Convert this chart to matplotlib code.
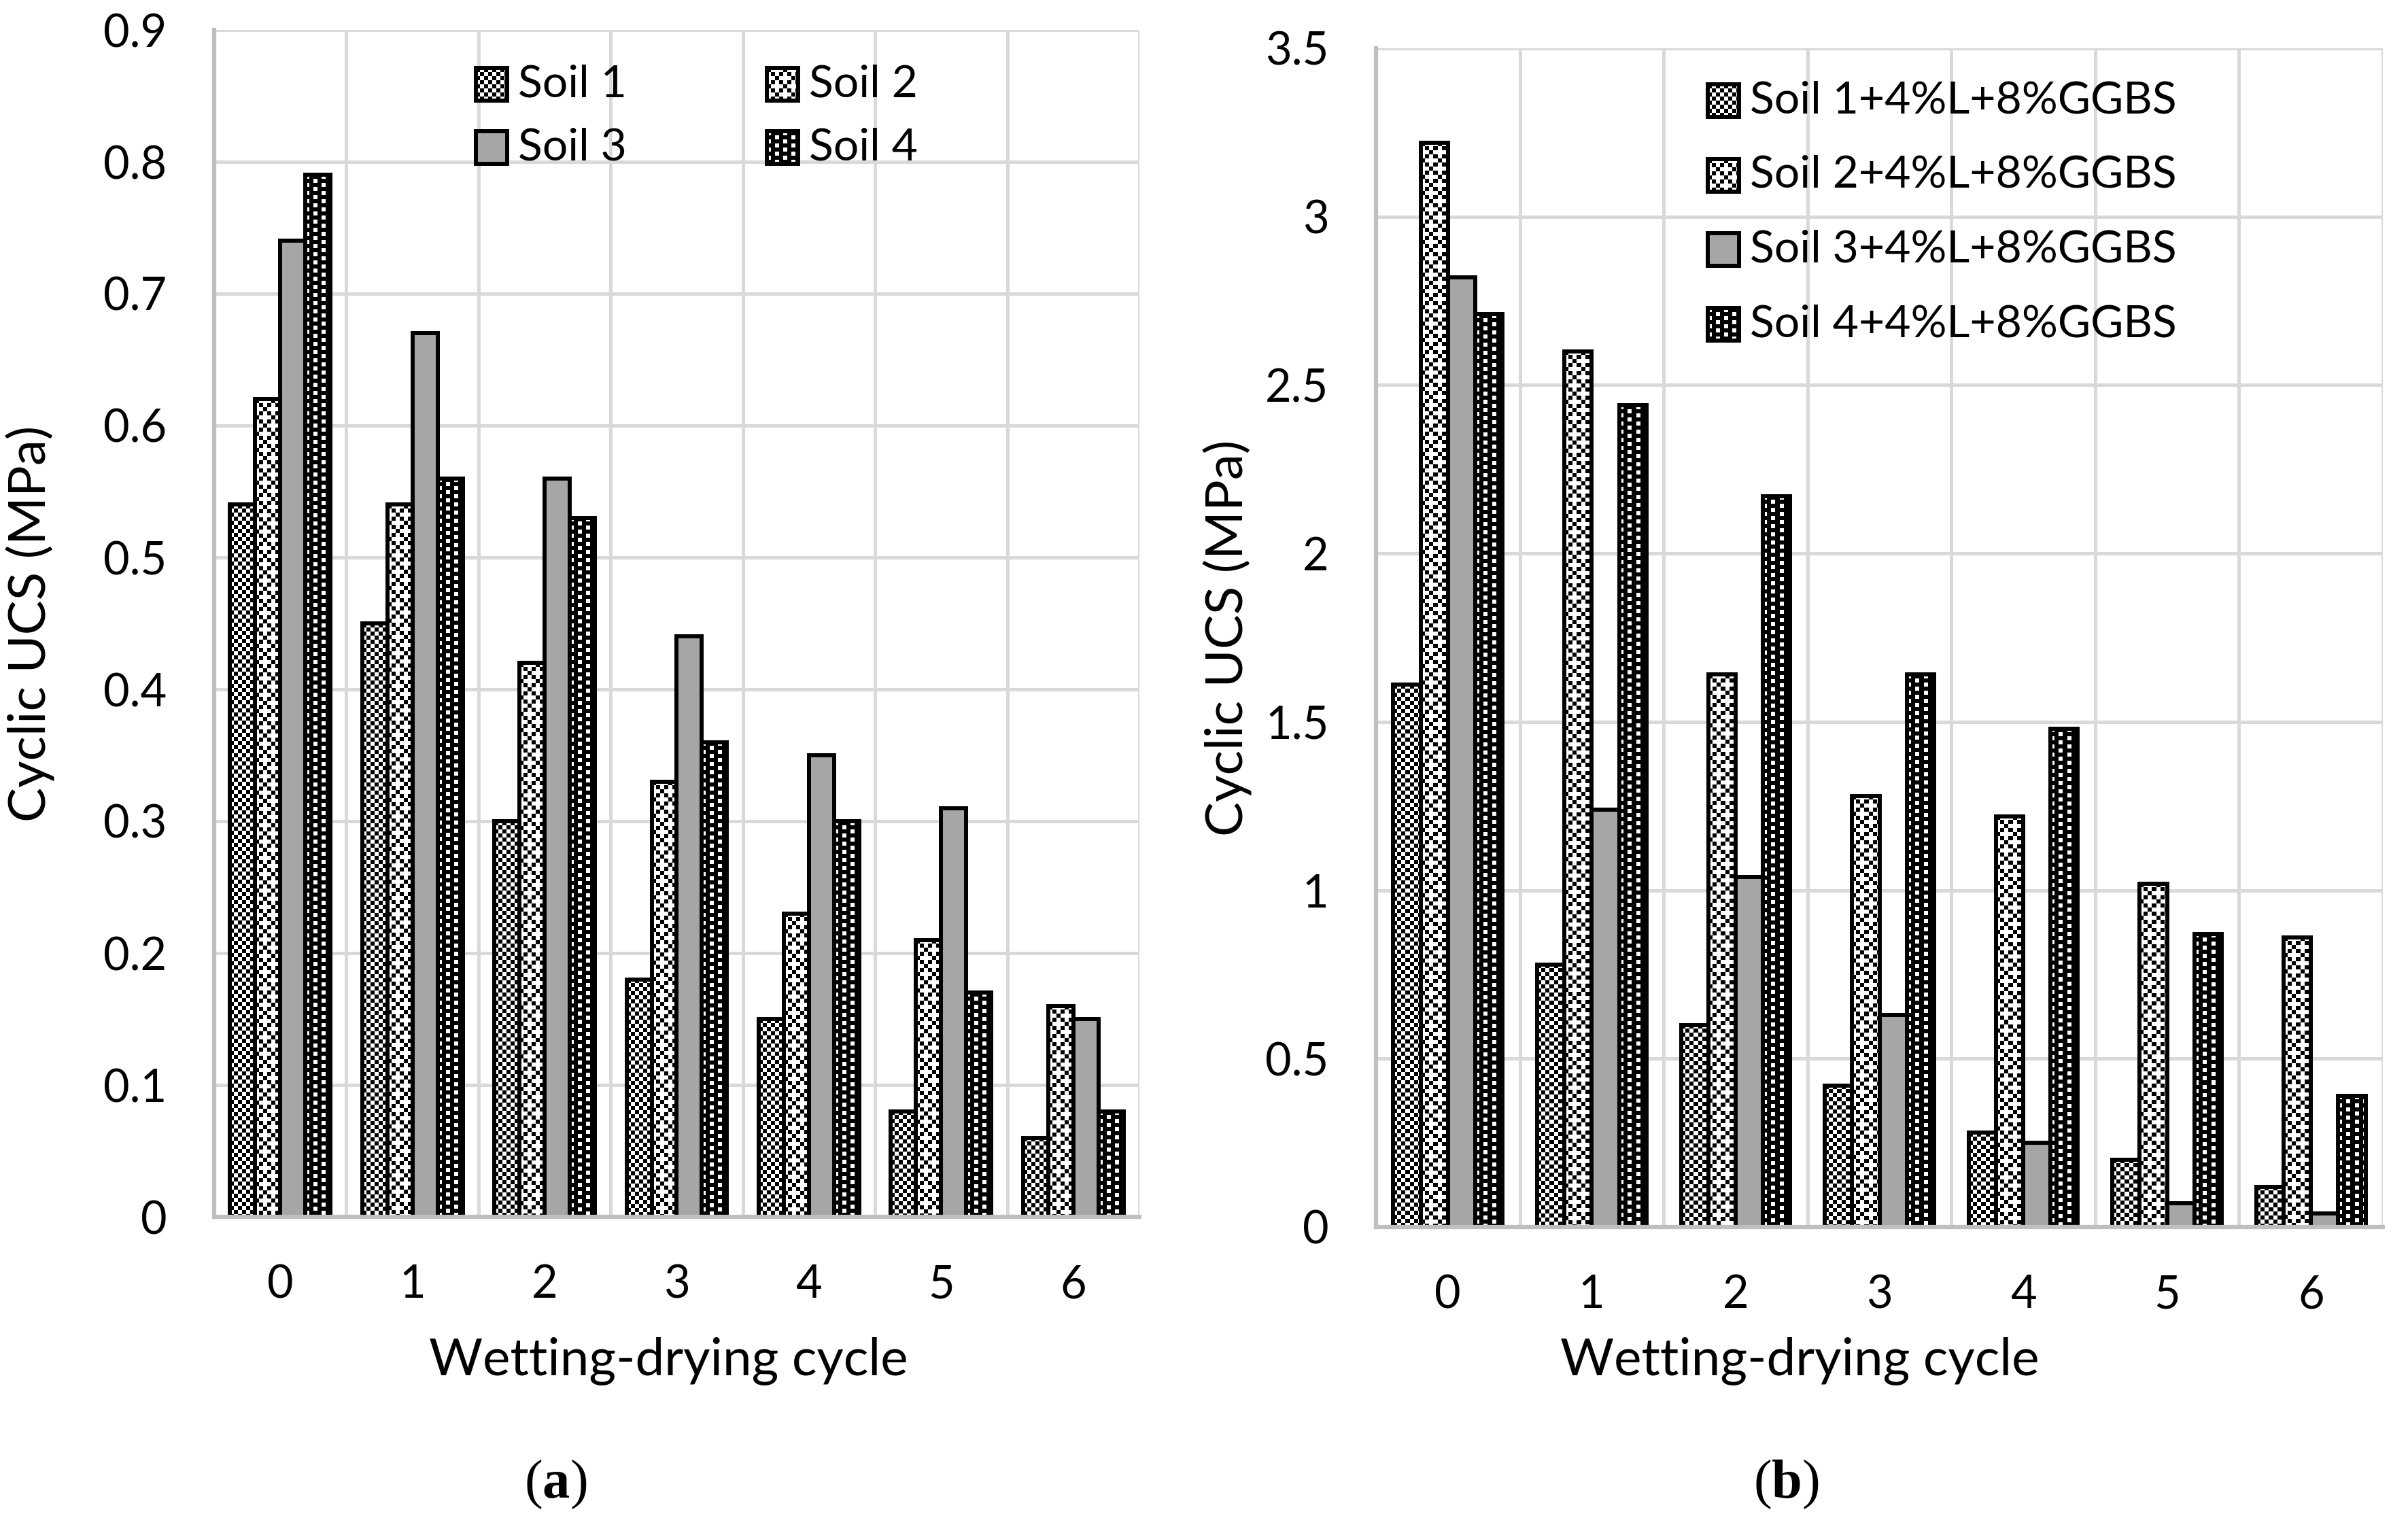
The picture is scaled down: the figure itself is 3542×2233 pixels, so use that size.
import numpy as np
import matplotlib
matplotlib.use("Agg")
import matplotlib.pyplot as plt
from matplotlib.patches import Rectangle
from matplotlib.ticker import FuncFormatter

plt.rcParams['font.family'] = ['Lato', 'DejaVu Sans']
plt.rcParams['mathtext.fontset'] = 'custom'
plt.rcParams['mathtext.rm'] = 'Liberation Serif'
plt.rcParams['mathtext.bf'] = 'Liberation Serif:bold'

# data
cycles = [0, 1, 2, 3, 4, 5, 6]

soil1_a = [0.54, 0.45, 0.30, 0.18, 0.15, 0.08, 0.06]
soil2_a = [0.62, 0.54, 0.42, 0.33, 0.23, 0.21, 0.16]
soil3_a = [0.74, 0.67, 0.56, 0.44, 0.35, 0.31, 0.15]
soil4_a = [0.79, 0.56, 0.53, 0.36, 0.30, 0.17, 0.08]

soil1_b = [1.61, 0.78, 0.60, 0.42, 0.28, 0.20, 0.12]
soil2_b = [3.22, 2.60, 1.64, 1.28, 1.22, 1.02, 0.86]
soil3_b = [2.82, 1.24, 1.04, 0.63, 0.25, 0.07, 0.04]
soil4_b = [2.71, 2.44, 2.17, 1.64, 1.48, 0.87, 0.39]

labels_a = ['Soil 1', 'Soil 2', 'Soil 3', 'Soil 4']
labels_b = ['Soil 1+4%L+8%GGBS', 'Soil 2+4%L+8%GGBS',
            'Soil 3+4%L+8%GGBS', 'Soil 4+4%L+8%GGBS']
kinds = ['check', 'cross', 'gray', 'dots']

W, H = 3542, 2233
GRAY = '#a6a6a6'
EDGE_LW = 4.3
TICK_FS = 48
LAB_FS = 55
LEG_FS = 47.5


def texture(kind, h, w, u=6):
    i = np.arange(h)[:, None] // u
    j = np.arange(w)[None, :] // u
    if kind == 'check':
        dark = (i + j) % 2 == 0
    elif kind == 'cross':
        dark = (i % 4 == j % 4) | ((i + j) % 4 == 0)
    else:
        light = (j % 2 == 0) & ((i + j // 2) % 2 == 0)
        dark = ~light
    return np.where(dark, 0.0, 1.0)


def fill_bars(ax, bars, kind):
    for r in bars:
        x0, y0 = r.get_x(), r.get_y()
        x1, y1 = x0 + r.get_width(), y0 + r.get_height()
        (px0, py0), (px1, py1) = ax.transData.transform([(x0, y0), (x1, y1)])
        w = max(int(round(px1 - px0)), 1)
        h = max(int(round(py1 - py0)), 1)
        ax.imshow(texture(kind, h, w), cmap='gray', vmin=0, vmax=1,
                  extent=(x0, x1, y0, y1), origin='upper',
                  interpolation='nearest', aspect='auto',
                  clip_path=r, zorder=2.5)


def make_panel(rect, series, ymax, ystep):
    ax = fig.add_axes(rect)
    ax.set_xlim(-0.5, 6.5)
    ax.set_ylim(0, ymax)
    x = np.array(cycles, dtype=float)
    bw = 0.19
    for k, (vals, kind) in enumerate(zip(series, kinds)):
        xs = x + (k - 1.5) * bw
        face = GRAY if kind == 'gray' else 'white'
        bars = ax.bar(xs, vals, bw, color=face, edgecolor='none', zorder=2)
        if kind != 'gray':
            fill_bars(ax, bars, kind)
        ax.bar(xs, vals, bw, fill=False, edgecolor='black', lw=EDGE_LW, zorder=3)
    ax.set_xlim(-0.5, 6.5)
    ax.set_ylim(0, ymax)
    ax.set_xticks(cycles)
    ax.set_xticks(np.arange(-0.5, 7, 1), minor=True)
    ax.set_yticks(np.arange(0, ymax + ystep / 2, ystep))
    ax.yaxis.set_major_formatter(FuncFormatter(lambda v, p: '{:g}'.format(round(v, 2))))
    ax.grid(axis='y', which='major', color='#d9d9d9', lw=3.6, zorder=0)
    ax.grid(axis='x', which='minor', color='#d9d9d9', lw=3.6, zorder=0)
    ax.set_axisbelow(True)
    ax.tick_params(which='both', length=0, labelsize=TICK_FS)
    ax.tick_params(axis='y', pad=50)
    ax.tick_params(axis='x', pad=50)
    for s in ['top', 'right']:
        ax.spines[s].set_visible(False)
    for s in ['left', 'bottom']:
        ax.spines[s].set_color('#bfbfbf')
        ax.spines[s].set_linewidth(4.5)
        ax.spines[s].set_zorder(4)
    return ax


def legend_entry(x, yc, kind, label, w=46, h=48, xt=None):
    # x, yc in image pixels, origin top-left
    y0 = H - yc - h / 2
    if kind == 'gray':
        fig.add_artist(Rectangle((x / W, y0 / H), w / W, h / H, transform=fig.transFigure,
                                 facecolor=GRAY, edgecolor='black', lw=EDGE_LW, zorder=3))
    else:
        fig.figimage(texture(kind, h, w), xo=int(x), yo=int(y0), origin='upper',
                     cmap='gray', vmin=0, vmax=1, zorder=2)
        fig.add_artist(Rectangle((x / W, y0 / H), w / W, h / H, transform=fig.transFigure,
                                 fill=False, edgecolor='black', lw=EDGE_LW, zorder=3))
    if xt is None:
        xt = x + w + 16
    fig.text(xt / W, 1 - yc / H, label, ha='left', va='center', fontsize=LEG_FS)


fig = plt.figure(figsize=(W / 100, H / 100), dpi=100)

ax1 = make_panel([315 / W, 1 - 1790 / H, (1676 - 315) / W, (1790 - 44) / H],
                 [soil1_a, soil2_a, soil3_a, soil4_a], 0.9, 0.1)
ax2 = make_panel([2024 / W, 1 - 1805 / H, (3505 - 2024) / W, (1805 - 71) / H],
                 [soil1_b, soil2_b, soil3_b, soil4_b], 3.5, 0.5)

fig.text(983 / W, 1 - 2002 / H, 'Wetting-drying cycle', ha='center', va='center', fontsize=LAB_FS)
fig.text(2647 / W, 1 - 2002 / H, 'Wetting-drying cycle', ha='center', va='center', fontsize=LAB_FS)
fig.text(45 / W, 1 - 917 / H, 'Cyclic UCS (MPa)', ha='center', va='center',
         rotation=90, fontsize=LAB_FS)
fig.text(1806 / W, 1 - 938 / H, 'Cyclic UCS (MPa)', ha='center', va='center',
         rotation=90, fontsize=LAB_FS)

fig.text(817 / W, 1 - 2184 / H, r'($\mathbf{a}$)', ha='center', va='center',
         fontsize=58, family='Liberation Serif')
fig.text(2627 / W, 1 - 2184 / H, r'($\mathbf{b}$)', ha='center', va='center',
         fontsize=58, family='Liberation Serif')

# legends
left_pos = [(700, 124), (1128, 124), (700, 217), (1128, 217)]
for (lx, ly), kind, lab in zip(left_pos, kinds, labels_a):
    legend_entry(lx, ly, kind, lab)
for k, (kind, lab) in enumerate(zip(kinds, labels_b)):
    legend_entry(2512, 148 + k * 109.5, kind, lab)

fig.savefig('out.png', dpi=100)
